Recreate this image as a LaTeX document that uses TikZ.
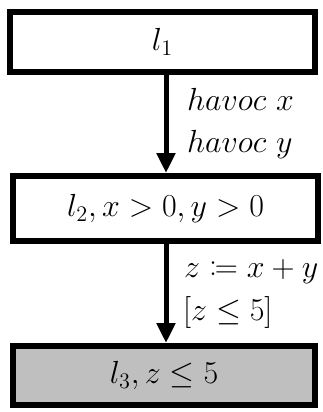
\documentclass[tikz,border=0pt]{standalone}
\usepackage{graphicx}
\usepackage{amssymb}
\usepackage{mathtools}
\usetikzlibrary{arrows.meta}
\definecolor{boxgray}{HTML}{BFBFBF}
\newcommand{\dgmtext}[1]{\scalebox{1.85}{\fontsize{17.28}{20}\selectfont$#1$}}
\begin{document}
\begin{tikzpicture}[x=1pt,y=-1pt,
  stbox/.style={draw=black,line width=6pt,inner sep=0pt},
  lbl/.style={anchor=base west,inner sep=0pt},
  conn/.style={line width=5pt,-{Triangle[width=18pt,length=20pt]}}]
\useasboundingbox (0,0) rectangle (322,412);
\node[stbox,minimum width=305pt,minimum height=60pt] (b1) at (162.5,42) {\dgmtext{l_1}};
\node[stbox,minimum width=305pt,minimum height=65pt] (b2) at (165.5,208.5) {\dgmtext{l_2, x > 0, y > 0}};
\node[stbox,fill=boxgray,minimum width=302pt,minimum height=59pt] (b3) at (164,375.5) {\dgmtext{l_3, z \leq 5}};
\coordinate (a1s) at (166,75);
\coordinate (a1e) at (166,173);
\coordinate (a2s) at (166,244);
\coordinate (a2e) at (166,343);
\draw[conn] (a1s) -- (a1e);
\draw[conn] (a2s) -- (a2e);
\node[lbl] (t1) at (187,110) {\dgmtext{havoc\ x}};
\node[lbl] (t2) at (187,152) {\dgmtext{havoc\ y}};
\node[lbl] (t3) at (184,277) {\dgmtext{z \coloneqq x + y}};
\node[lbl] (t4) at (183,320) {\dgmtext{[z \leq 5]}};
\end{tikzpicture}
\end{document}
